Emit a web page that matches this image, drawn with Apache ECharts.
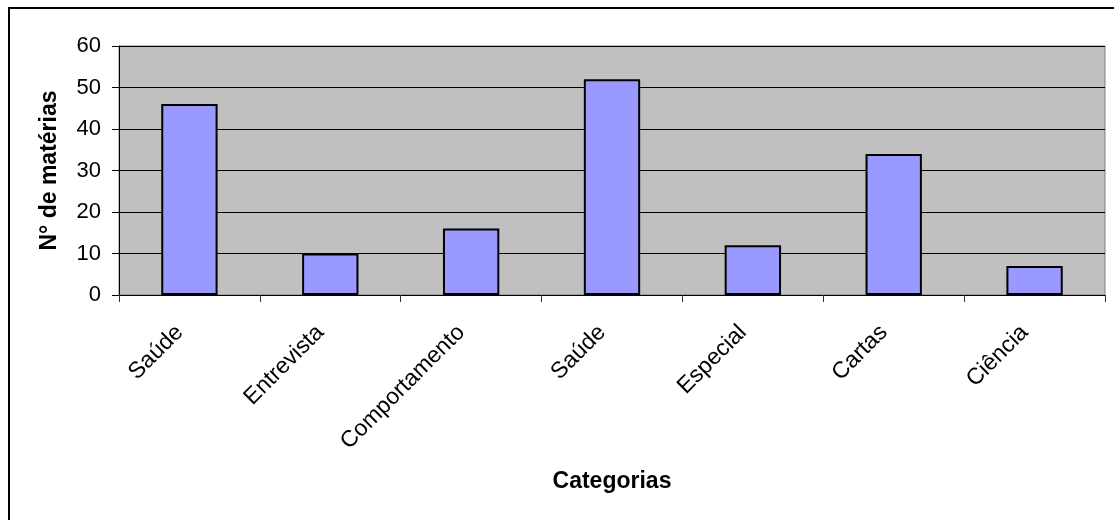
<!DOCTYPE html>
<html>
<head>
<meta charset="utf-8">
<script src="https://cdn.jsdelivr.net/npm/echarts@6/dist/echarts.min.js"></script>
<style>
  html, body { margin: 0; padding: 0; background: #fff; }
  #chart { width: 1114px; height: 520px; }
</style>
</head>
<body>
<div id="chart"></div>
<script>
// dados
var categorias = ['Saúde', 'Entrevista', 'Comportamento', 'Saúde', 'Especial', 'Cartas', 'Ciência'];
var materias = [46, 10, 16, 52, 12, 34, 7];
var yTicks = [0, 60, 10]; // min, max, intervalo

var font = 'Liberation Sans, Arial, sans-serif';

var myChart = echarts.init(document.getElementById('chart'));
var option = {
    animation: false,
    backgroundColor: '#ffffff',
    grid: {
        left: 119,
        right: 9,
        top: 46,
        bottom: 225,
        show: true,
        backgroundColor: '#C0C0C0',
        borderColor: '#808080',
        borderWidth: 1
    },
    graphic: [
        { type: 'line', shape: { x1: 8, y1: 8, x2: 1114, y2: 8 }, style: { stroke: '#000', lineWidth: 2 } },
        { type: 'line', shape: { x1: 9, y1: 7, x2: 9, y2: 520 }, style: { stroke: '#000', lineWidth: 2 } }
    ],
    xAxis: {
        type: 'category',
        data: categorias,
        name: 'Categorias',
        nameLocation: 'middle',
        nameGap: 175,
        nameTextStyle: { fontFamily: font, fontSize: 23, fontWeight: 'bold', color: '#000' },
        axisLine: { lineStyle: { color: '#000', width: 1 } },
        axisTick: { show: true, length: 7, lineStyle: { color: '#333' } },
        axisLabel: { rotate: 45, margin: 24, padding: [0, 14, 0, 0], fontFamily: font, fontSize: 23, color: '#000', interval: 0 },
        splitLine: { show: false }
    },
    yAxis: {
        type: 'value',
        min: yTicks[0],
        max: yTicks[1],
        interval: yTicks[2],
        name: 'N° de matérias',
        nameLocation: 'middle',
        nameGap: 58,
        nameRotate: 90,
        nameTextStyle: { fontFamily: font, fontSize: 23, fontWeight: 'bold', color: '#000' },
        axisLine: { show: true, lineStyle: { color: '#000', width: 1 } },
        axisTick: { show: true, length: 7, lineStyle: { color: '#000' } },
        axisLabel: { margin: 18, fontFamily: font, fontSize: 22, color: '#000' },
        splitLine: { show: true, lineStyle: { color: '#000', width: 1 } }
    },
    series: [
        {
            type: 'bar',
            data: materias,
            barWidth: '40%',
            itemStyle: { color: '#9999FF', borderColor: '#000', borderWidth: 2 }
        }
    ]
};
myChart.setOption(option);
</script>
</body>
</html>
